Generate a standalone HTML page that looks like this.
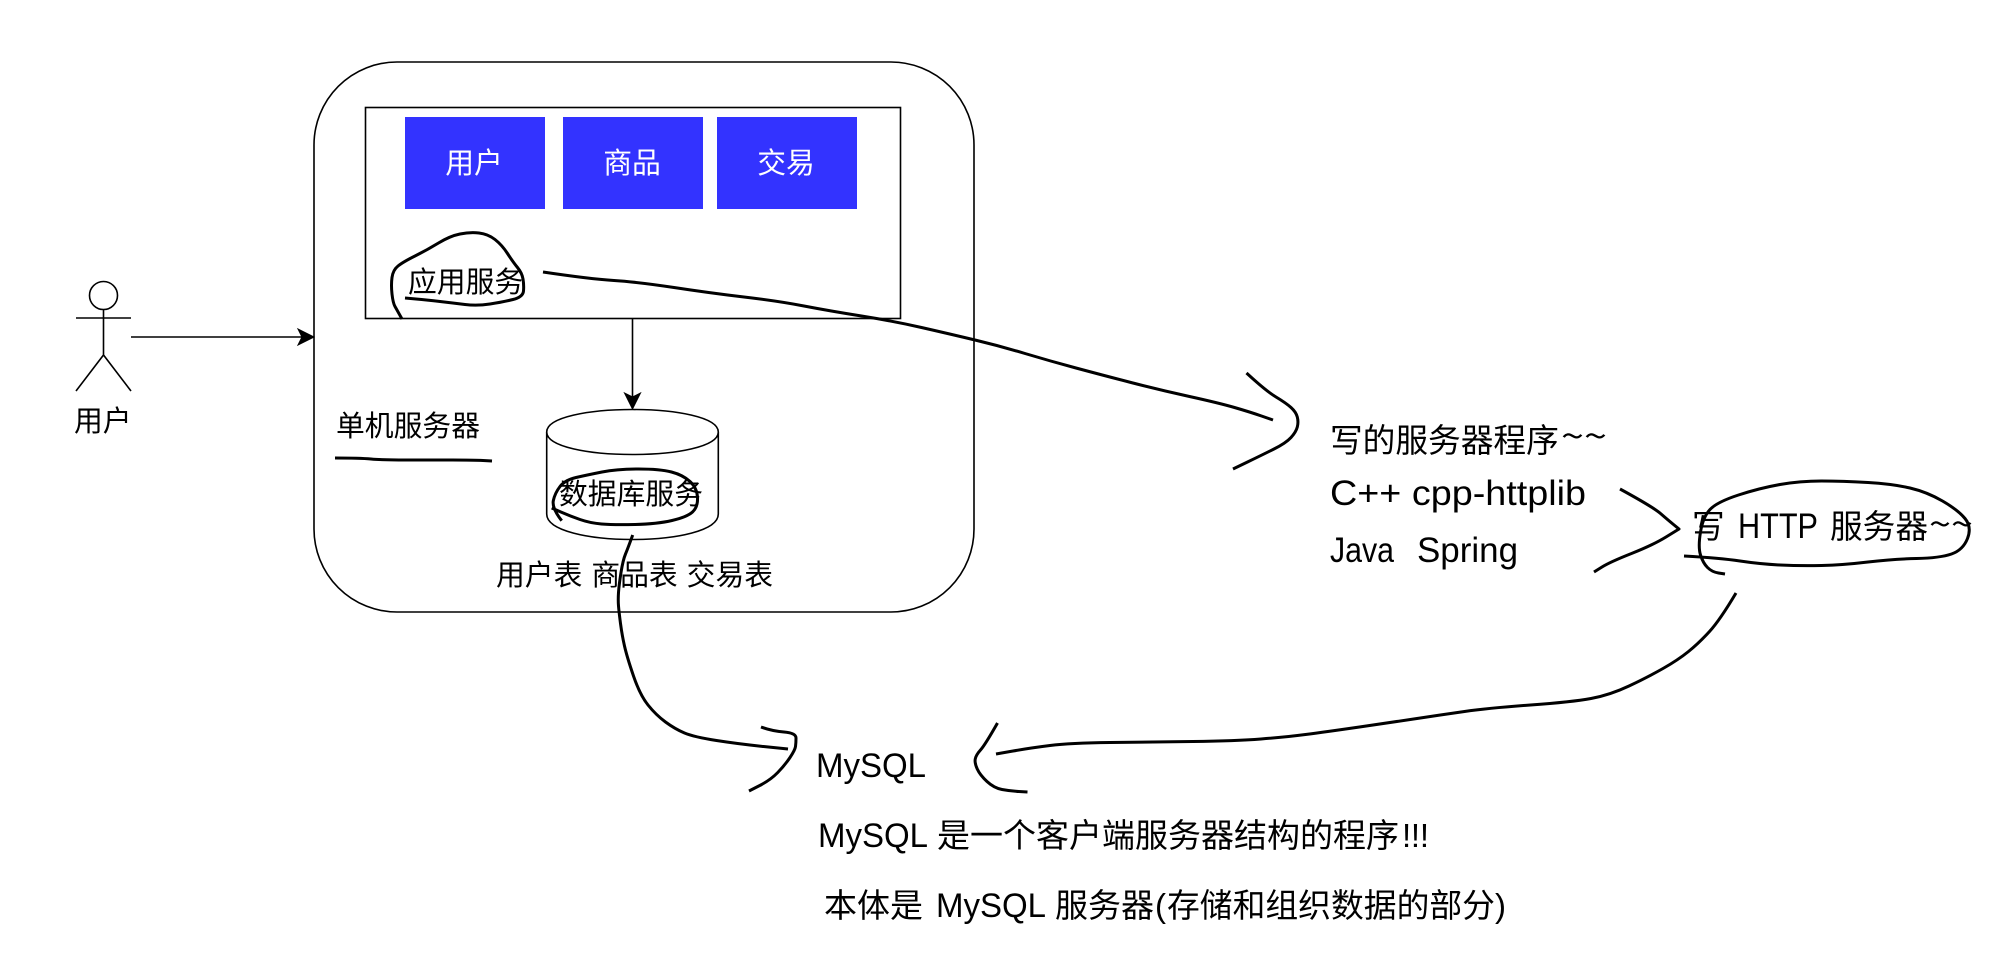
<!DOCTYPE html>
<html><head><meta charset="utf-8"><style>
html,body{margin:0;padding:0;background:#fff}
svg{display:block}
text{font-family:"Liberation Sans","Noto Sans CJK SC",sans-serif;fill:#000}
.c{font-family:"Noto Sans CJK SC","Liberation Sans",sans-serif}
.s{font-size:28.8px}
.l{font-size:32.7px}
.w{fill:#fff;text-anchor:middle;font-size:28.8px}
.t{fill:none;stroke:#000;stroke-width:1.6}
.h{fill:none;stroke:#000;stroke-width:3;stroke-linejoin:round;stroke-linecap:butt}
</style></head><body>
<svg width="1996" height="958" viewBox="0 0 1996 958" xmlns="http://www.w3.org/2000/svg">
<rect x="314" y="62" width="660" height="550" rx="83" ry="83" class="t"/>
<rect x="365.500" y="107.500" width="535" height="211" class="t"/>
<rect x="405" y="117" width="140" height="92" fill="#3333ff"/>
<rect x="563" y="117" width="140" height="92" fill="#3333ff"/>
<rect x="717" y="117" width="140" height="92" fill="#3333ff"/>
<text class="c w" x="474" y="173">用户</text>
<text class="c w" x="632" y="173">商品</text>
<text class="c w" x="786" y="173">交易</text>

<ellipse cx="103.500" cy="295.500" rx="14" ry="14" class="t"/>
<path d="M76 318H131M103.500 309.500V355M76 391L103.500 355L131 391" class="t"/>
<text class="c s" x="74" y="431">用户</text>

<path d="M131 337H304" class="t"/>
<path d="M314 337L298 345L302 337L298 329Z" fill="#000" stroke="#000"/>
<path d="M632.500 319V399" class="t"/>
<path d="M632.500 409L624.500 393L632.500 397L640.500 393Z" fill="#000" stroke="#000"/>

<path d="M546.700 432C546.700 402 718.300 402 718.300 432V514C718.300 548 546.700 548 546.700 514Z" class="t"/>
<path d="M546.700 432C546.700 462 718.300 462 718.300 432" class="t"/>

<text class="c s" x="336" y="436">单机服务器</text>
<text class="c s" x="559" y="504">数据库服务</text>
<text class="c s" x="408" y="292">应用服务</text>
<text class="c s" x="496" y="585" style="word-spacing:2.5px">用户表 商品表 交易表</text>

<polyline class="h" points="335,458 360,458 382,460 430,460 474,460 492,461"/>
<polyline class="h" points="402,319 397,310 393,303 391,285 393,270 403,262 427,250 450,236 470,232 488,234 502,245 513,262 522,273 524,285 523,297 503,302 477,306 453,303 427,300 405,298"/>
<polyline class="h" points="543,272 590,279 638,282 710,293 778,301 830,311 893,321 950,334 1000,346 1050,361 1102,375 1160,390 1219,403 1250,412 1273,420"/>
<polyline class="h" points="1246.500,373 1266,391 1286,403 1296,412 1298.600,422 1296,432 1286,443 1262,455 1233,469"/>
<polyline class="h" points="1620,489 1653,507 1668,520 1679,529 1679,529 1653,545 1610,562 1594,572"/>
<polyline class="h" points="1684,556 1720,558 1760,564 1800,566 1843,565 1893,559 1940,558 1963,550 1972,527 1958,510 1927,492 1893,484 1843,481 1800,481 1760,488 1717,502 1703,517 1698,547 1703,563 1712,572 1725,574"/>
<polyline class="h" points="1736,593 1720,620 1699,643 1678,660 1648,677 1610,695 1572,702 1489,708 1440,715 1394,722 1325,732 1286,737 1236,741 1150,742 1070,743 1030,748 996,754"/>
<polyline class="h" points="997.500,723 985,745 976,755 974.500,763 980,775 994,788 1010,791 1027.500,792"/>
<polyline class="h" points="561.700,520.700 551.700,508 555,493 565,480 587,475 617,469 660,469 683,475 697,488 698,507 687,517 657,524 613,525 590,523 570,516 551.700,508"/>
<polyline class="h" points="632.700,535 628,548 623,560 619,585 618,600 619,612 622,635 627,657 640,695 656,715 675,729 694,737 739,744 788,749"/>
<polyline class="h" points="761,727 772,731 796,733 796,743 795,750 785,765 770.500,780 749,791"/>

<text class="c l" x="1330" y="452">写的服务器程序</text>
<text class="c l" x="1561" y="448" textLength="46" lengthAdjust="spacingAndGlyphs">~~</text>
<text x="1330" y="505" font-size="35" textLength="256" lengthAdjust="spacingAndGlyphs">C++ cpp-httplib</text>
<text x="1330" y="562" font-size="35" textLength="64" lengthAdjust="spacingAndGlyphs">Java</text>
<text x="1417" y="562" font-size="35" textLength="101" lengthAdjust="spacingAndGlyphs">Spring</text>

<text class="c l" x="1692" y="538">写</text>
<text x="1738" y="538" font-size="35" textLength="80" lengthAdjust="spacingAndGlyphs">HTTP</text>
<text class="c l" x="1830" y="538">服务器</text>
<text class="c l" x="1929" y="536" textLength="44" lengthAdjust="spacingAndGlyphs">~~</text>

<text x="816" y="777" font-size="34" textLength="110" lengthAdjust="spacingAndGlyphs">MySQL</text>
<text x="818" y="847" font-size="34" textLength="110" lengthAdjust="spacingAndGlyphs">MySQL</text>
<text class="c" x="937" y="847" font-size="33">是一个客户端服务器结构的程序</text>
<text x="1402" y="847" font-size="33" textLength="27" lengthAdjust="spacing">!!!</text>
<text class="c" x="824" y="917" font-size="33">本体是</text>
<text x="936" y="917" font-size="34" textLength="110" lengthAdjust="spacingAndGlyphs">MySQL</text>
<text class="c" x="1055" y="917" font-size="33">服务器</text>
<text x="1155" y="917" font-size="33">(</text>
<text class="c" x="1167" y="917" font-size="32.800">存储和组织数据的部分</text>
<text x="1495" y="917" font-size="33">)</text>
</svg>
<script>
document.querySelectorAll('polyline.h').forEach(function(e){
  var p=e.getAttribute('points').trim().split(/\s+/).map(function(s){return s.split(',').map(Number)});
  var d='M'+p[0][0]+' '+p[0][1];
  for(var i=1;i<p.length-1;i++){
    var mx=(p[i][0]+p[i+1][0])/2,my=(p[i][1]+p[i+1][1])/2;
    d+='Q'+p[i][0]+' '+p[i][1]+' '+mx+' '+my;
  }
  d+='L'+p[p.length-1][0]+' '+p[p.length-1][1];
  var n=document.createElementNS('http://www.w3.org/2000/svg','path');
  n.setAttribute('class','h');n.setAttribute('d',d);
  e.parentNode.replaceChild(n,e);
});
</script>
</body></html>
